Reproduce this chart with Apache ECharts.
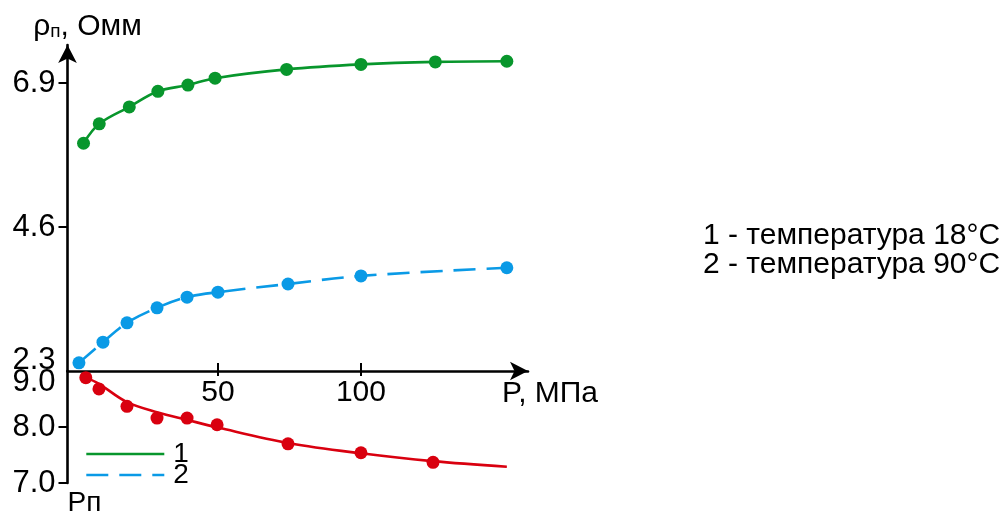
<!DOCTYPE html>
<html><head><meta charset="utf-8">
<script src="https://cdn.jsdelivr.net/npm/echarts@6/dist/echarts.min.js"></script>
<style>html,body{margin:0;padding:0;background:#fff}#c{width:1008px;height:513px}</style>
</head><body><div id="c"></div>
<script>
// --- data ---
const pGreen   = [3, 8.5, 19, 29, 39.5, 49, 74, 100, 126, 151];
const rhoGreen = [5.94, 6.25, 6.52, 6.77, 6.87, 6.98, 7.12, 7.20, 7.24, 7.25];
const pBlue    = [1.4, 9.8, 18.2, 28.7, 39.2, 50, 74.5, 100, 151];
const rhoBlue  = [2.43, 2.76, 3.07, 3.31, 3.48, 3.56, 3.69, 3.82, 3.95];
const pRed     = [3.8, 8.4, 18.2, 28.7, 39.2, 49.7, 74.5, 100, 125.2];
const rpRed    = [8.88, 8.68, 8.37, 8.16, 8.16, 8.04, 7.70, 7.54, 7.37];
const pRedFit  = [3.5, 8.4, 18, 29, 39, 50, 75, 100, 125, 151];
const rpRedFit = [8.89, 8.77, 8.45, 8.26, 8.13, 7.99, 7.71, 7.53, 7.39, 7.29];
const xTicks    = [50, 100];
const rhoLabels = [2.3, 4.6, 6.9];
const rhoTicks  = [4.6, 6.9];
const rpLabels  = [7.0, 8.0, 9.0];
const rpTicks   = [7.0, 8.0];
const legendNames = ['1', '2'];
const noteLines = ['1 - температура 18°C', '2 - температура 90°C'];

const zip = (a, b) => a.map((v, i) => [v, b[i]]);
const GREEN = '#08962c', BLUE = '#0a9ae6', RED = '#d9000f';
const FONT = 'Liberation Sans';
const xMin = -2.6, xMax = 158.4;

const chart = echarts.init(document.getElementById('c'));
const axisLineStyle = {color: '#000', width: 2.6};
chart.setOption({
  animation: false,
  backgroundColor: '#fff',
  textStyle: {fontFamily: FONT},
  grid: [
    {left: 67.5, right: 480, top: 45, bottom: 142, outerBoundsMode: 'none', containLabel: false},
    {left: 67.5, right: 480, top: 371, bottom: 30, outerBoundsMode: 'none', containLabel: false}
  ],
  xAxis: [
    {gridIndex: 0, type: 'value', min: xMin, max: xMax, position: 'bottom',
     axisLine: {show: true, onZero: false, symbol: ['none', 'arrow'], symbolSize: [14, 18], lineStyle: axisLineStyle},
     axisTick: {show: true, inside: true, length: 8, customValues: xTicks, lineStyle: {color: '#000', width: 2}},
     axisLabel: {customValues: xTicks, fontSize: 30, margin: 7, color: '#000', fontFamily: FONT},
     splitLine: {show: false},
     name: 'P, МПа', nameLocation: 'end', nameGap: -26,
     nameTextStyle: {fontSize: 30, color: '#000', fontFamily: FONT, align: 'left', verticalAlign: 'top', padding: [8, 0, 0, 0]}
    },
    {gridIndex: 0, type: 'value', min: xMin, max: xMax, position: 'bottom',
     axisLine: {show: false, onZero: false},
     axisTick: {show: true, inside: false, length: 5, customValues: xTicks, lineStyle: {color: '#000', width: 2}},
     axisLabel: {show: false}, splitLine: {show: false}
    },
    {gridIndex: 1, type: 'value', min: xMin, max: xMax, show: false}
  ],
  yAxis: [
    {gridIndex: 0, type: 'value', min: 2.3, max: 7.51,
     axisLine: {show: true, onZero: false, symbol: ['none', 'arrow'], symbolSize: [14, 18], lineStyle: axisLineStyle},
     axisTick: {show: true, length: 9, customValues: rhoTicks, lineStyle: {color: '#000', width: 2}},
     axisLabel: {customValues: rhoLabels, fontSize: 31, margin: 12, color: '#000', fontFamily: FONT,
       formatter: v => v === 2.3 ? '{up|2.3}' : v.toFixed(1),
       rich: {up: {fontSize: 31, color: '#000', fontFamily: FONT, padding: [0, 0, 22, 0]}}},
     splitLine: {show: false},
     name: '{r|ρ}{s|п}{r|, Омм}', nameLocation: 'end', nameGap: 3,
     nameTextStyle: {align: 'center', padding: [0, 0, 0, 40],
       rich: {r: {fontSize: 30, color: '#000', fontFamily: FONT},
              s: {fontSize: 19, color: '#000', fontFamily: FONT, padding: [10, 0, 0, 0]}}}
    },
    {gridIndex: 1, type: 'value', min: 7, max: 9,
     axisLine: {show: true, onZero: false, lineStyle: axisLineStyle},
     axisTick: {show: true, length: 9, customValues: rpTicks, lineStyle: {color: '#000', width: 2}},
     axisLabel: {customValues: rpLabels, fontSize: 31, margin: 12, color: '#000', fontFamily: FONT,
       formatter: v => v === 9 ? '{dn|9.0}' : v.toFixed(1),
       rich: {dn: {fontSize: 31, color: '#000', fontFamily: FONT, padding: [22, 0, 0, 0]}}},
     splitLine: {show: false},
     name: 'Рп', nameLocation: 'start', nameGap: 6,
     nameTextStyle: {fontSize: 28, color: '#000', fontFamily: FONT, align: 'left', verticalAlign: 'top'}
    }
  ],
  legend: {
    data: legendNames, orient: 'vertical', left: 85, top: 440, padding: 0,
    itemWidth: 78, itemHeight: 14, itemGap: -7,
    itemStyle: {opacity: 0},
    lineStyle: {width: 2.6},
    textStyle: {fontSize: 28, color: '#000', fontFamily: FONT, padding: [0, 0, 0, 4]}
  },
  graphic: noteLines.map((t, i) => ({
    type: 'text', x: 703, y: 236 + i * 29,
    style: {text: t, font: '30px "Liberation Sans"', fill: '#000', verticalAlign: 'middle'}
  })),
  series: [
    {name: legendNames[0], type: 'line', xAxisIndex: 0, yAxisIndex: 0, data: zip(pGreen, rhoGreen),
     smooth: 0.35, symbol: 'none', color: GREEN, lineStyle: {color: GREEN, width: 2.6}},
    {name: 'т18', type: 'scatter', xAxisIndex: 0, yAxisIndex: 0, data: zip(pGreen, rhoGreen),
     symbolSize: 13, itemStyle: {color: GREEN, opacity: 1}},
    {name: legendNames[1], type: 'line', xAxisIndex: 0, yAxisIndex: 0, data: zip(pBlue, rhoBlue),
     smooth: 0.35, symbol: 'none', color: BLUE, lineStyle: {color: BLUE, width: 2.6, type: [22, 11]}},
    {name: 'т90', type: 'scatter', xAxisIndex: 0, yAxisIndex: 0, data: zip(pBlue, rhoBlue),
     symbolSize: 13, itemStyle: {color: BLUE, opacity: 1}},
    {name: 'Рп-кривая', type: 'line', xAxisIndex: 2, yAxisIndex: 1, data: zip(pRedFit, rpRedFit),
     smooth: 0.35, symbol: 'none', color: RED, lineStyle: {color: RED, width: 2.6}},
    {name: 'Рп', type: 'scatter', xAxisIndex: 2, yAxisIndex: 1, data: zip(pRed, rpRed),
     symbolSize: 13, itemStyle: {color: RED, opacity: 1}}
  ]
});
</script>
</body></html>
